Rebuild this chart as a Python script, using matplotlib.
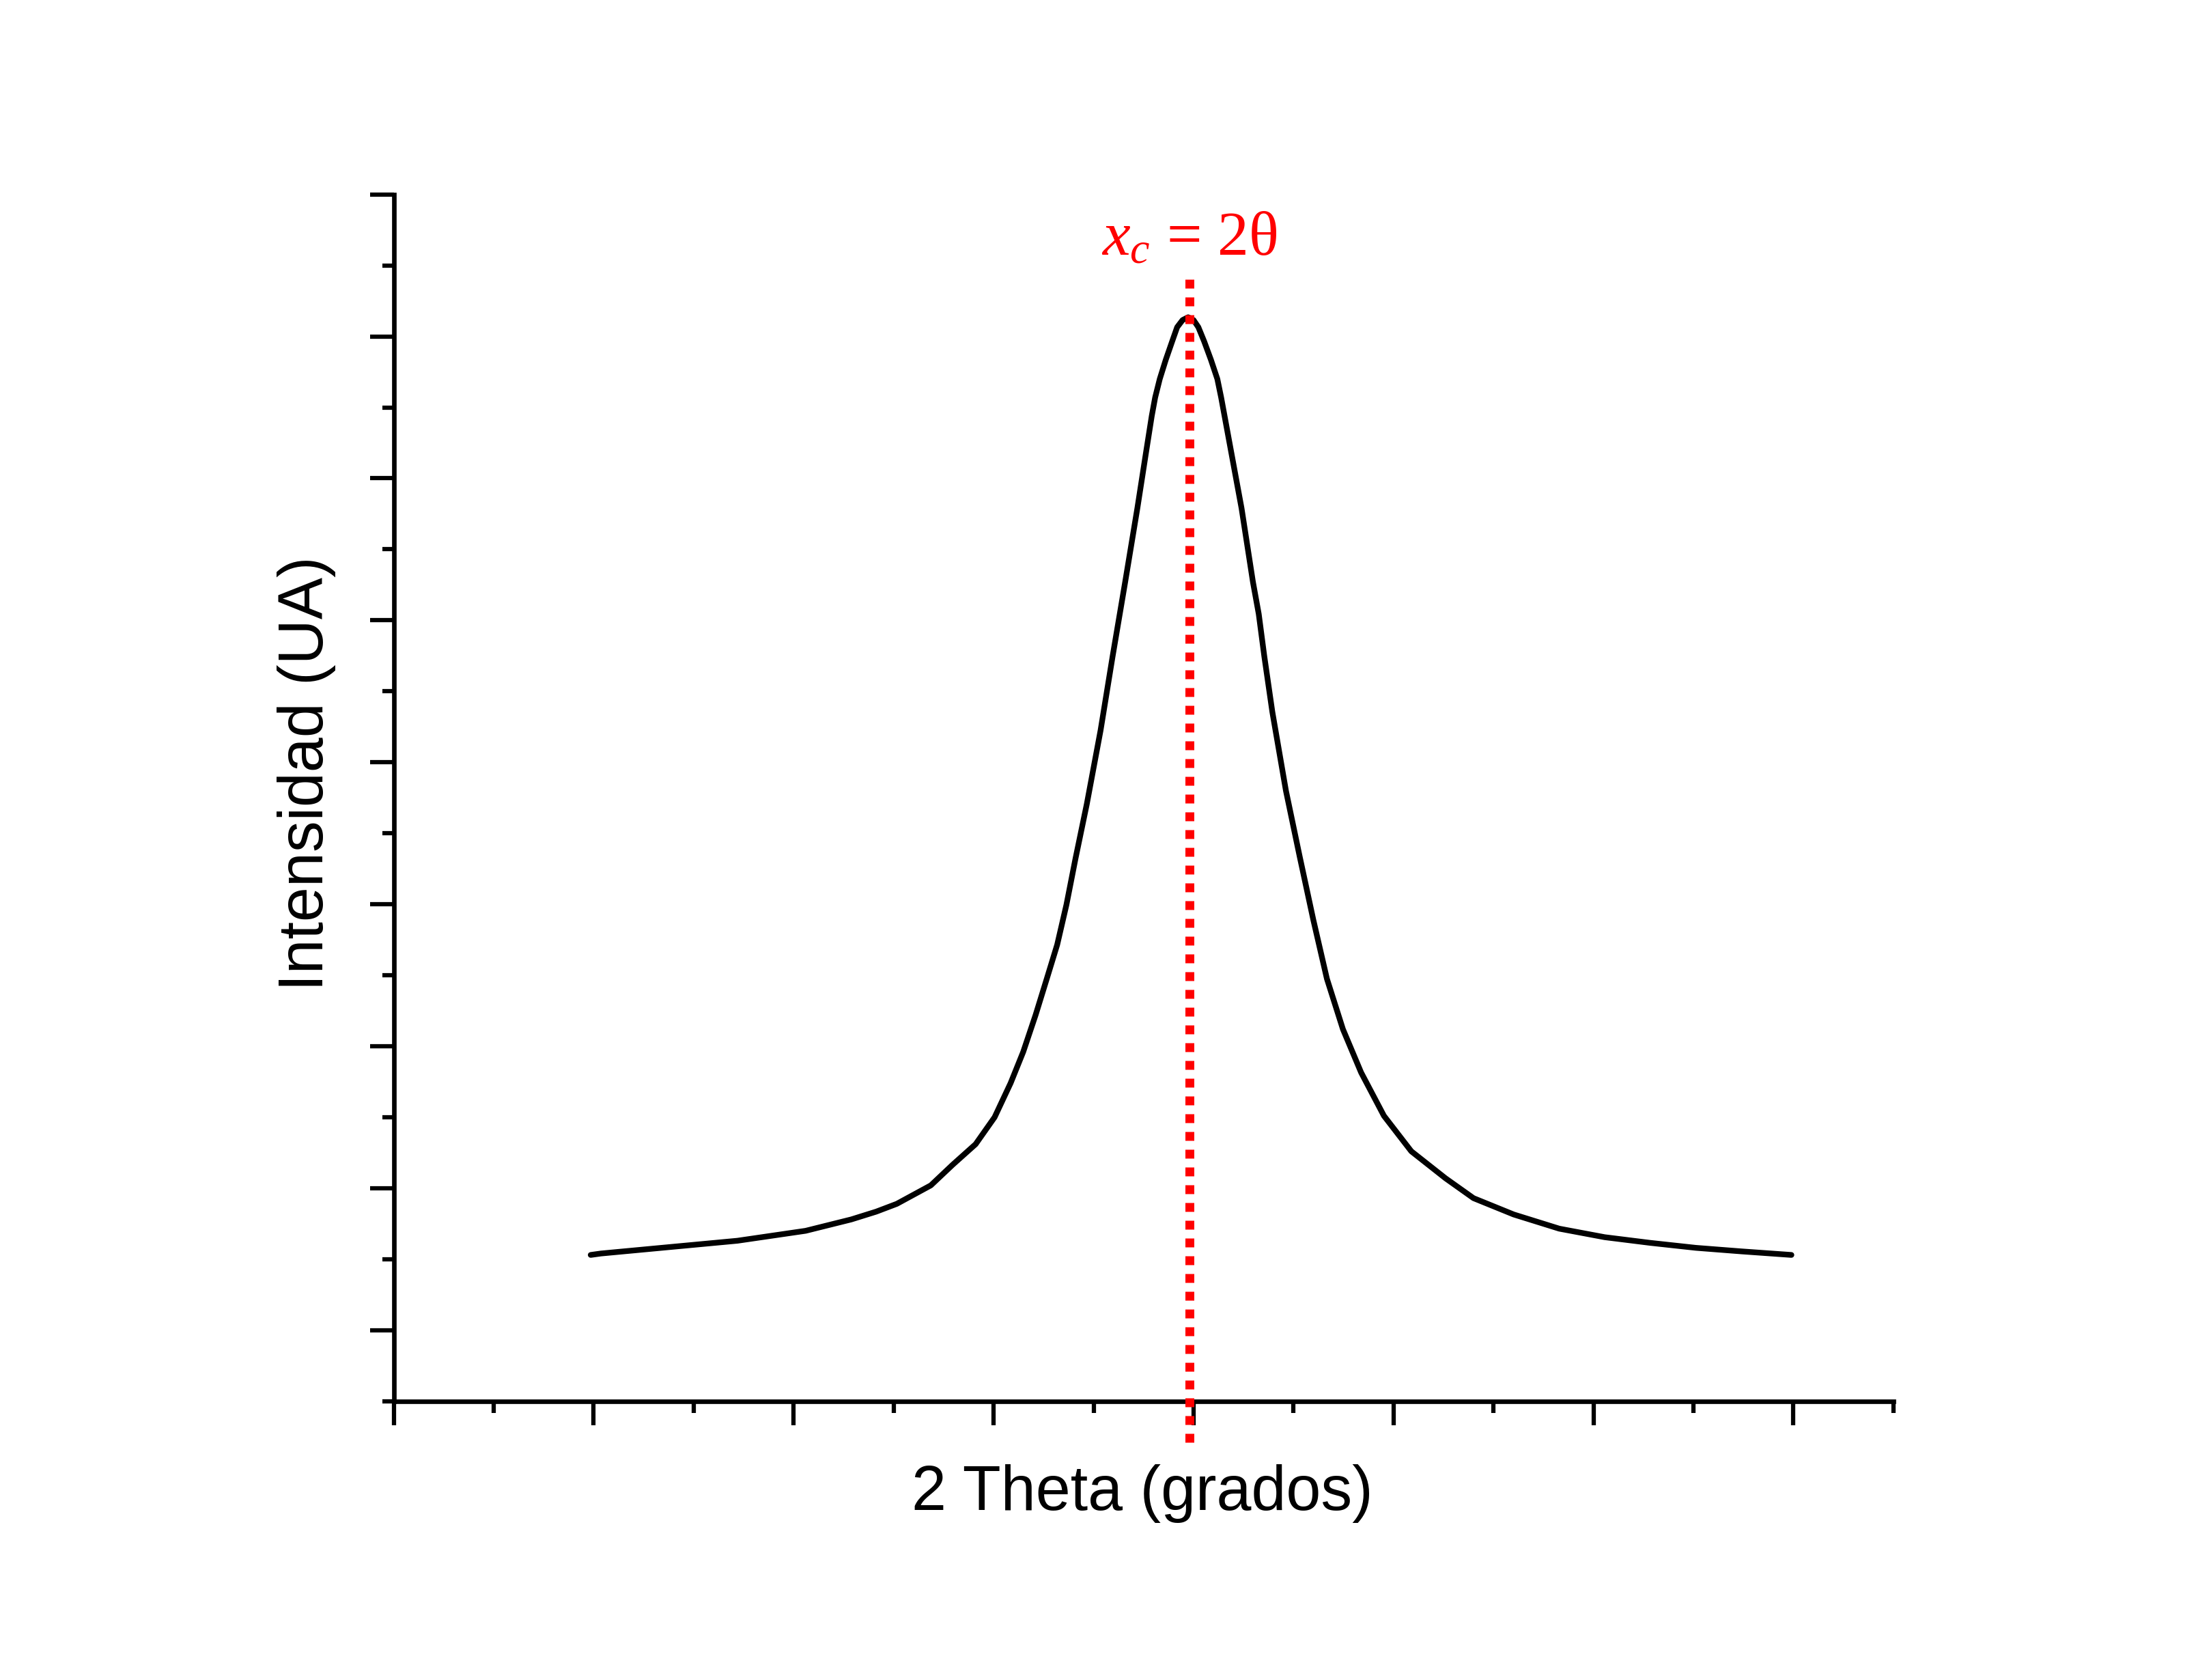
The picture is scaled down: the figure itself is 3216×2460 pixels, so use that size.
import numpy as np
import matplotlib
matplotlib.use("Agg")
import matplotlib.pyplot as plt

plt.rcParams['font.family'] = ['Liberation Sans', 'DejaVu Sans']
plt.rcParams['mathtext.fontset'] = 'custom'
plt.rcParams['mathtext.rm'] = 'Liberation Serif'
plt.rcParams['mathtext.it'] = 'Liberation Serif:italic'

# peak profile (x in major tick units, y in minor tick units)
theta_x = [0.985, 1.036, 1.377, 1.719, 2.06, 2.288, 2.413, 2.516, 2.686, 2.795,
           2.91, 3.005, 3.085, 3.148, 3.21, 3.267, 3.318, 3.364, 3.41, 3.466,
           3.535, 3.595, 3.658, 3.719, 3.762, 3.791, 3.808, 3.831, 3.861, 3.893,
           3.918, 3.945, 3.973, 4.00, 4.024, 4.053, 4.087, 4.119, 4.138, 4.155,
           4.189, 4.24, 4.297, 4.326, 4.354, 4.394, 4.462, 4.531, 4.599, 4.667,
           4.747, 4.838, 4.952, 5.089, 5.26, 5.40, 5.601, 5.829, 6.056, 6.284,
           6.512, 6.74, 6.99]
intensity = [2.06, 2.08, 2.17, 2.26, 2.40, 2.56, 2.67, 2.78, 3.04, 3.33,
             3.62, 4.00, 4.48, 4.92, 5.44, 5.96, 6.43, 6.99, 7.65, 8.41,
             9.45, 10.49, 11.54, 12.58, 13.36, 13.88, 14.14, 14.40, 14.67, 14.93,
             15.13, 15.23, 15.27, 15.23, 15.13, 14.93, 14.67, 14.40, 14.14, 13.88,
             13.36, 12.58, 11.54, 11.09, 10.49, 9.71, 8.60, 7.67, 6.78, 5.95,
             5.24, 4.63, 4.02, 3.52, 3.14, 2.86, 2.63, 2.43, 2.31, 2.23,
             2.16, 2.11, 2.06]

# peak centre marker
xc = 3.98
xc_line_y = [15.80, -0.59]
xc_label = r'$x_c$ = 2θ'
xc_label_y = 16.16

x_label = '2 Theta (grados)'
y_label = 'Intensidad (UA)'

fig = plt.figure(figsize=(10.72, 8.2033), dpi=300)
ax = fig.add_axes([0.1793, 0.16591, 0.6829, 0.71800])

ax.plot(theta_x, intensity, color='black', linewidth=2.0, solid_capstyle='round', solid_joinstyle='round')

# red dotted line at the centre, runs past the x axis
ax.plot([xc, xc], xc_line_y, color='#ff0000', linewidth=3.12, linestyle=(0, (1, 1)),
        dash_capstyle='butt', clip_on=False, zorder=3)

ax.text(xc, xc_label_y, xc_label, color='#ff0000', fontsize=22, family='Liberation Serif',
        ha='center', va='baseline')

ax.set_xlim(0, 7.5)
ax.set_ylim(0, 17)

ax.spines['top'].set_visible(False)
ax.spines['right'].set_visible(False)
ax.spines['left'].set_linewidth(1.6)
ax.spines['bottom'].set_linewidth(1.6)

ax.set_xticks(np.arange(0, 8, 1))
ax.set_xticks(np.arange(0.5, 8, 1), minor=True)
ax.set_yticks(np.arange(1, 18, 2))
ax.set_yticks(np.arange(0, 17, 2), minor=True)
ax.tick_params(which='major', direction='out', length=8.3, width=1.5, labelbottom=False, labelleft=False)
ax.tick_params(which='minor', direction='out', length=4.0, width=1.5)

# axis labels placed by hand to match the original
ax.text(0.4991, -0.0894, x_label, transform=ax.transAxes, fontsize=22,
        ha='center', va='baseline')
ax.text(-0.0471, 0.5207, y_label, transform=ax.transAxes, fontsize=22,
        ha='center', va='baseline', rotation=90, rotation_mode='anchor')

fig.savefig('out.png', dpi=300, facecolor='white')
